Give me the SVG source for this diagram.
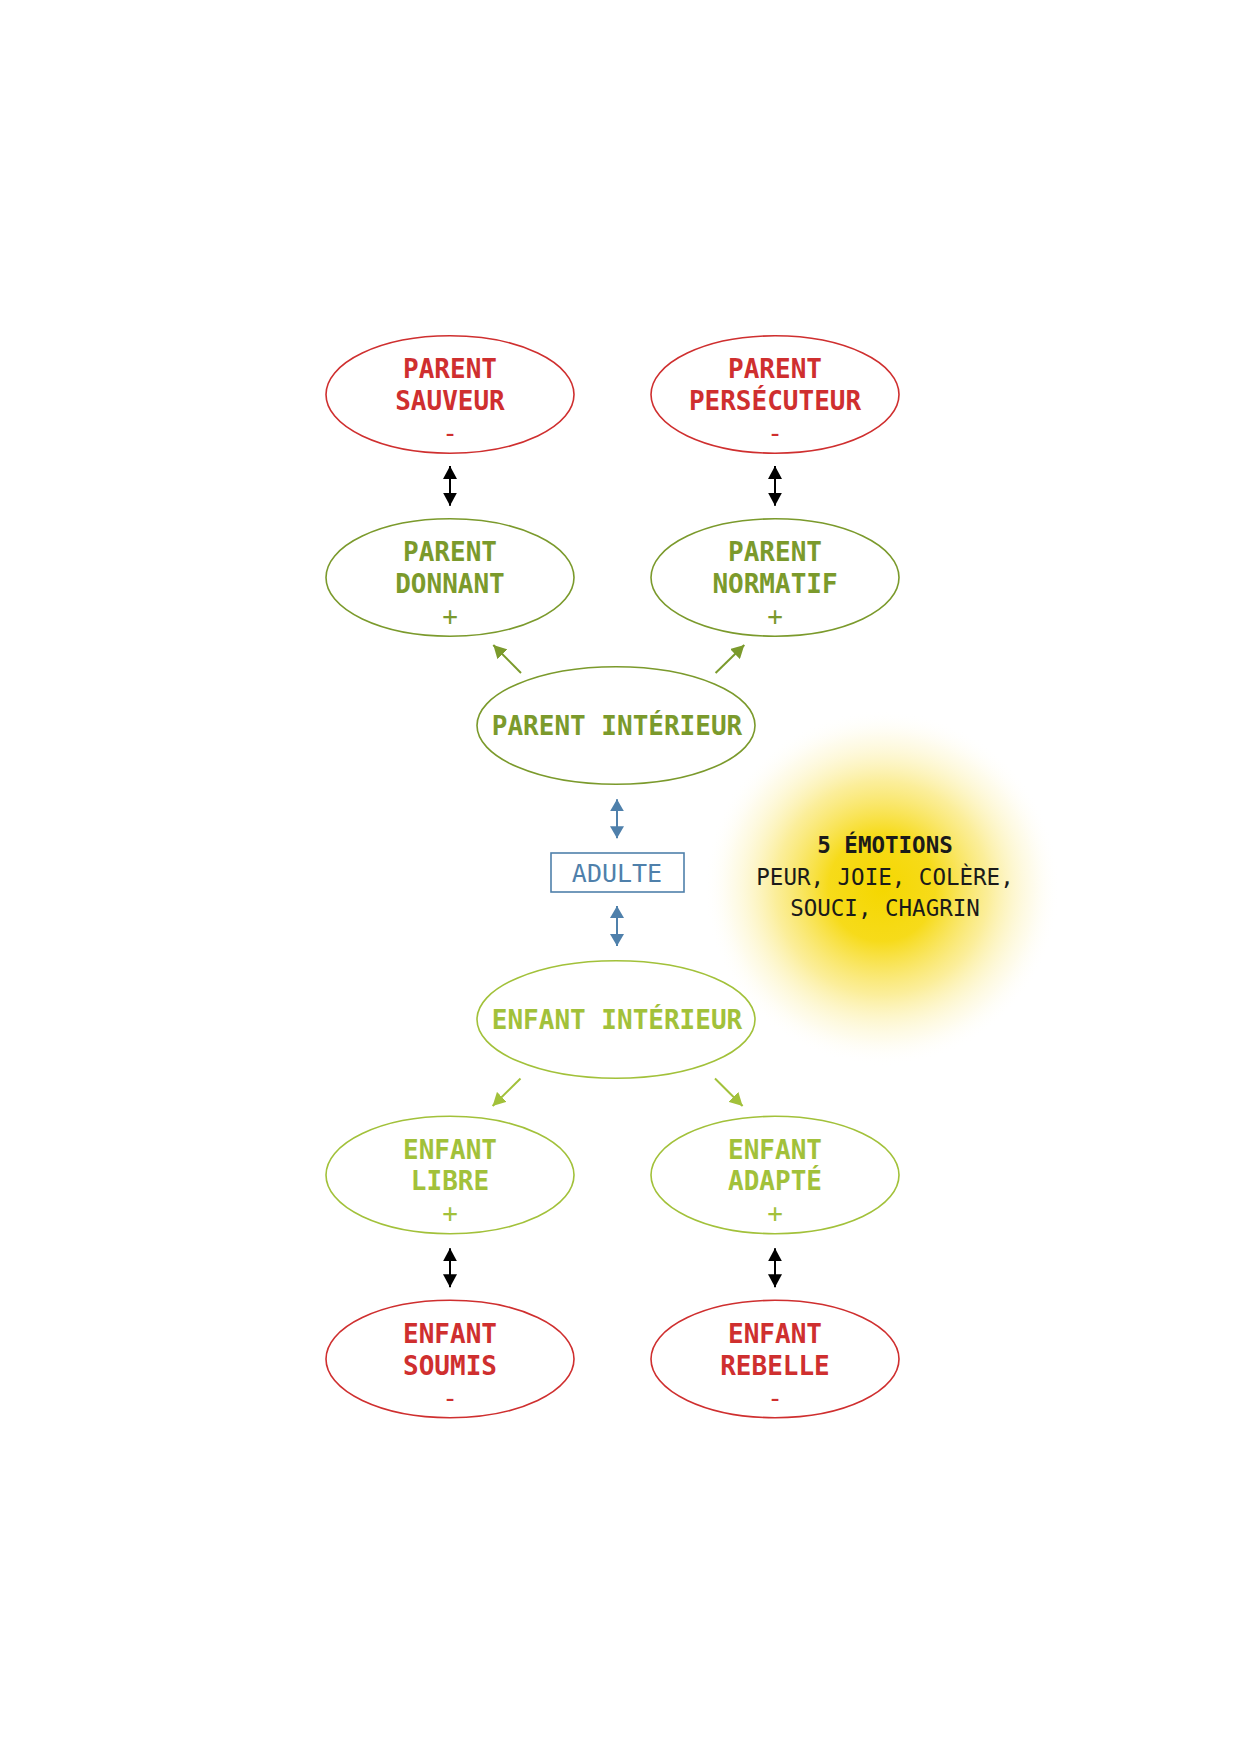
<svg xmlns="http://www.w3.org/2000/svg" width="1241" height="1754" viewBox="0 0 1241 1754">
<style>
  text { font-family: "DejaVu Sans Mono", "Liberation Mono", monospace; text-anchor: middle; }
  .lbl { font-size: 26px; font-weight: bold; }
  .sign { font-size: 26px; font-weight: normal; }
  .red { fill: #cf2f2f; }
  .olive { fill: #7b9a2c; }
  .lime { fill: #a2c13a; }
  .blue { fill: #4f80ab; }
  .e-red { fill: none; stroke: #cf2f2f; stroke-width: 1.6; }
  .e-olive { fill: none; stroke: #7b9a2c; stroke-width: 1.6; }
  .e-lime { fill: none; stroke: #a2c13a; stroke-width: 1.6; }
  .c-black { stroke: #000; stroke-width: 2; fill: none; }
  .c-olive { stroke: #7b9a2c; stroke-width: 2; fill: none; }
  .c-lime { stroke: #a2c13a; stroke-width: 2; fill: none; }
  .c-blue { stroke: #4f80ab; stroke-width: 2; fill: none; }
  .emo { font-size: 22.5px; fill: #1a1a1a; }
</style>
<defs>
  <marker id="mBlack" viewBox="0 0 13 14" markerWidth="13" markerHeight="14" refX="13" refY="7" orient="auto-start-reverse" markerUnits="userSpaceOnUse">
    <path d="M0,0 L13,7 L0,14 z" fill="#000"/>
  </marker>
  <marker id="mOlive" viewBox="0 0 13 14" markerWidth="13" markerHeight="14" refX="13" refY="7" orient="auto" markerUnits="userSpaceOnUse">
    <path d="M0,0 L13,7 L0,14 z" fill="#7b9a2c"/>
  </marker>
  <marker id="mLime" viewBox="0 0 13 14" markerWidth="13" markerHeight="14" refX="13" refY="7" orient="auto" markerUnits="userSpaceOnUse">
    <path d="M0,0 L13,7 L0,14 z" fill="#a2c13a"/>
  </marker>
  <marker id="mBlue" viewBox="0 0 12 14" markerWidth="12" markerHeight="14" refX="12" refY="7" orient="auto-start-reverse" markerUnits="userSpaceOnUse">
    <path d="M0,0 L12,7 L0,14 z" fill="#4f80ab"/>
  </marker>
  <radialGradient id="glow" cx="882" cy="888" r="178" gradientUnits="userSpaceOnUse">
    <stop offset="0" stop-color="#f5d700" stop-opacity="1"/>
    <stop offset="0.3" stop-color="#f6d90e" stop-opacity="0.95"/>
    <stop offset="0.6" stop-color="#f8e048" stop-opacity="0.55"/>
    <stop offset="0.85" stop-color="#fbeea0" stop-opacity="0.2"/>
    <stop offset="1" stop-color="#ffffff" stop-opacity="0"/>
  </radialGradient>
</defs>
<rect width="1241" height="1754" fill="#ffffff"/>

<g id="emotions">
  <circle cx="882" cy="888" r="178" fill="url(#glow)"/>
  <text class="emo" x="885" y="853" font-weight="bold">5 ÉMOTIONS</text>
  <text class="emo" x="885" y="885">PEUR, JOIE, COLÈRE,</text>
  <text class="emo" x="885" y="916">SOUCI, CHAGRIN</text>
</g>

<g id="connectors">
  <line class="c-black" x1="450" y1="466" x2="450" y2="505.7" marker-start="url(#mBlack)" marker-end="url(#mBlack)"/>
  <line class="c-black" x1="775" y1="466" x2="775" y2="505.7" marker-start="url(#mBlack)" marker-end="url(#mBlack)"/>
  <line class="c-olive" x1="521" y1="673" x2="493.3" y2="645" marker-end="url(#mOlive)"/>
  <line class="c-olive" x1="715.6" y1="673" x2="744.3" y2="645" marker-end="url(#mOlive)"/>
  <line class="c-blue" x1="617" y1="799.3" x2="617" y2="838.3" marker-start="url(#mBlue)" marker-end="url(#mBlue)"/>
  <line class="c-blue" x1="617" y1="906" x2="617" y2="946" marker-start="url(#mBlue)" marker-end="url(#mBlue)"/>
  <line class="c-lime" x1="520.5" y1="1078.5" x2="492.6" y2="1106" marker-end="url(#mLime)"/>
  <line class="c-lime" x1="715" y1="1078.5" x2="742.6" y2="1106" marker-end="url(#mLime)"/>
  <line class="c-black" x1="450" y1="1248.3" x2="450" y2="1287.3" marker-start="url(#mBlack)" marker-end="url(#mBlack)"/>
  <line class="c-black" x1="775" y1="1248.3" x2="775" y2="1287.3" marker-start="url(#mBlack)" marker-end="url(#mBlack)"/>
</g>

<g id="parent-sauveur">
  <ellipse class="e-red" cx="450" cy="394.5" rx="124" ry="58.7"/>
  <text class="lbl red" x="450" y="378">PARENT</text>
  <text class="lbl red" x="450" y="410">SAUVEUR</text>
  <text class="sign red" x="450" y="442">-</text>
</g>
<g id="parent-persecuteur">
  <ellipse class="e-red" cx="775" cy="394.5" rx="124" ry="58.7"/>
  <text class="lbl red" x="775" y="378">PARENT</text>
  <text class="lbl red" x="775" y="410">PERSÉCUTEUR</text>
  <text class="sign red" x="775" y="442">-</text>
</g>
<g id="parent-donnant">
  <ellipse class="e-olive" cx="450" cy="577.5" rx="124" ry="58.7"/>
  <text class="lbl olive" x="450" y="561">PARENT</text>
  <text class="lbl olive" x="450" y="593">DONNANT</text>
  <text class="sign olive" x="450" y="625">+</text>
</g>
<g id="parent-normatif">
  <ellipse class="e-olive" cx="775" cy="577.5" rx="124" ry="58.7"/>
  <text class="lbl olive" x="775" y="561">PARENT</text>
  <text class="lbl olive" x="775" y="593">NORMATIF</text>
  <text class="sign olive" x="775" y="625">+</text>
</g>
<g id="parent-interieur">
  <ellipse class="e-olive" cx="616" cy="725.5" rx="139" ry="58.8"/>
  <text class="lbl olive" x="617" y="735">PARENT INTÉRIEUR</text>
</g>
<g id="adulte">
  <rect x="551" y="853" width="133" height="39" fill="#ffffff" stroke="#4f80ab" stroke-width="1.6"/>
  <text class="blue" x="617" y="882" font-size="25">ADULTE</text>
</g>
<g id="enfant-interieur">
  <ellipse class="e-lime" cx="616" cy="1019.5" rx="139" ry="58.8"/>
  <text class="lbl lime" x="617" y="1028.5">ENFANT INTÉRIEUR</text>
</g>
<g id="enfant-libre">
  <ellipse class="e-lime" cx="450" cy="1175" rx="124" ry="58.7"/>
  <text class="lbl lime" x="450" y="1159">ENFANT</text>
  <text class="lbl lime" x="450" y="1190">LIBRE</text>
  <text class="sign lime" x="450" y="1222">+</text>
</g>
<g id="enfant-adapte">
  <ellipse class="e-lime" cx="775" cy="1175" rx="124" ry="58.7"/>
  <text class="lbl lime" x="775" y="1159">ENFANT</text>
  <text class="lbl lime" x="775" y="1190">ADAPTÉ</text>
  <text class="sign lime" x="775" y="1222">+</text>
</g>
<g id="enfant-soumis">
  <ellipse class="e-red" cx="450" cy="1359" rx="124" ry="58.7"/>
  <text class="lbl red" x="450" y="1343">ENFANT</text>
  <text class="lbl red" x="450" y="1374.5">SOUMIS</text>
  <text class="sign red" x="450" y="1407">-</text>
</g>
<g id="enfant-rebelle">
  <ellipse class="e-red" cx="775" cy="1359" rx="124" ry="58.7"/>
  <text class="lbl red" x="775" y="1343">ENFANT</text>
  <text class="lbl red" x="775" y="1374.5">REBELLE</text>
  <text class="sign red" x="775" y="1407">-</text>
</g>
</svg>
